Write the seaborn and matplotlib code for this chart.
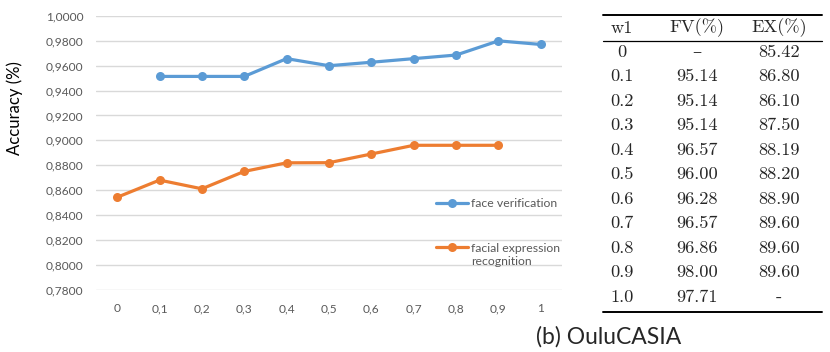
import numpy as np
import pandas as pd
import matplotlib
matplotlib.use("Agg")
import matplotlib.pyplot as plt
import matplotlib.transforms as mtransforms
import seaborn as sns

# weight w1 and accuracy of each task (fraction)
w1 = [0, 0.1, 0.2, 0.3, 0.4, 0.5, 0.6, 0.7, 0.8, 0.9, 1.0]
w1_labels = ["0", "0,1", "0,2", "0,3", "0,4", "0,5", "0,6", "0,7", "0,8", "0,9", "1"]
face_verif = [np.nan, 0.9514, 0.9514, 0.9514, 0.9657, 0.9600, 0.9628, 0.9657, 0.9686, 0.9800, 0.9771]
facial_expr = [0.8542, 0.8680, 0.8610, 0.8750, 0.8819, 0.8820, 0.8890, 0.8960, 0.8960, 0.8960, np.nan]
series_names = ["face verification", "facial expression\nrecognition"]
y_ticks = [0.78, 0.80, 0.82, 0.84, 0.86, 0.88, 0.90, 0.92, 0.94, 0.96, 0.98, 1.00]

# table on the right
tab_header = ["w1", "FV(%)", "EX(%)"]
tab_w1 = ["0", "0.1", "0.2", "0.3", "0.4", "0.5", "0.6", "0.7", "0.8", "0.9", "1.0"]
tab_fv = ["\u2013", "95.14", "95.14", "95.14", "96.57", "96.00", "96.28", "96.57", "96.86", "98.00", "97.71"]
tab_ex = ["85.42", "86.80", "86.10", "87.50", "88.19", "88.20", "88.90", "89.60", "89.60", "89.60", "-"]

df = pd.DataFrame({
    "w1": w1 * 2,
    "acc": face_verif + facial_expr,
    "task": [series_names[0]] * len(w1) + [series_names[1]] * len(w1),
}).dropna()

sns.set_style("white")
plt.rcParams["font.family"] = ["Lato", "DejaVu Sans"]

W, H = 830, 352
fig = plt.figure(figsize=(W / 100, H / 100), dpi=100)
ax = fig.add_axes([96 / W, 1 - 289.5 / H, (562 - 96) / W, (289.5 - 16) / H])

palette = {series_names[0]: "#5B9BD5", series_names[1]: "#ED7D31"}
sns.lineplot(data=df, x="w1", y="acc", hue="task", palette=palette, marker="o",
             markersize=6.5, markeredgewidth=0, linewidth=2.3, legend=False, ax=ax)

ax.set_xlim(-0.05, 1.05)
ax.set_ylim(0.78, 1.0)
ax.set_xticks(w1)
ax.set_xticklabels(w1_labels)
ax.set_yticks(y_ticks)
ax.set_yticklabels([f"{v:.4f}".replace(".", ",") for v in y_ticks])
ax.tick_params(axis="both", length=0, labelsize=8.6, labelcolor="#595959")
ax.tick_params(axis="x", pad=10)
ax.tick_params(axis="y", pad=9)
ax.grid(axis="y", color="#D9D9D9", linewidth=1)
ax.set_axisbelow(True)
for s in ax.spines.values():
    s.set_visible(False)
ax.set_xlabel("")
ax.set_ylabel("")
fig.text(15 / W, 1 - 108 / H, "Accuracy (%)", rotation=90, ha="center", va="center",
         fontsize=12, color="black")

leg = ax.legend(ax.lines[:2], series_names, loc="upper left",
                bbox_to_anchor=(436 / W, 1 - 198 / H), bbox_transform=fig.transFigure,
                frameon=False, fontsize=8.8, handlelength=2.6, handletextpad=0.3,
                labelspacing=2.75, borderpad=0, borderaxespad=0)
for t in leg.get_texts():
    t.set_color("#595959")
    t.set_linespacing(1.3)
# align the handle of the two-line entry with its first line
h2 = leg.get_lines()[1]
h2.set_transform(h2.get_transform() + mtransforms.ScaledTranslation(0, 8 / 100, fig.dpi_scale_trans))

# table drawn in pixel coordinates of the figure
tax = fig.add_axes([0, 0, 1, 1])
tax.set_xlim(0, W)
tax.set_ylim(H, 0)
tax.axis("off")
serif = ["cmr10", "DejaVu Serif"]
col_x = [622, 697, 779]
for x, h in zip(col_x, tab_header):
    tax.text(x, 28, h, ha="center", va="center", fontsize=13.2, family=serif)
row0, step = 52, 24.5
for i in range(len(tab_w1)):
    y = row0 + i * step
    for x, v in zip(col_x, [tab_w1[i], tab_fv[i], tab_ex[i]]):
        tax.text(x, y, v, ha="center", va="center", fontsize=13.2, family=serif)
for y, lw in [(15, 1.4), (41, 0.9), (312, 1.4)]:
    tax.plot([603, 822], [y, y], color="black", linewidth=lw)

fig.text(609 / W, 1 - 337 / H, "(b) OuluCASIA", ha="center", va="center", fontsize=16.5)

fig.savefig("out.png", dpi=100)
